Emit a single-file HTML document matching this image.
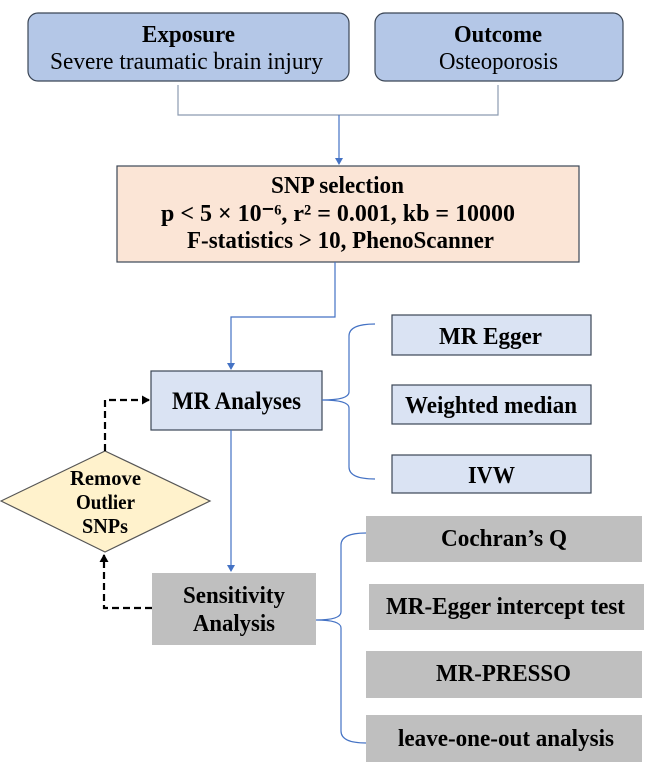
<!DOCTYPE html>
<html><head><meta charset="utf-8"><style>html,body{margin:0;padding:0;background:#fff}svg{display:block}</style></head>
<body>
<svg width="646" height="769" viewBox="0 0 646 769" xmlns="http://www.w3.org/2000/svg" font-family="'Liberation Serif', serif" font-weight="bold">
<defs>
<marker id="ab" markerWidth="8" markerHeight="8" refX="6" refY="4" orient="auto" markerUnits="userSpaceOnUse"><path d="M0,0 L7,4 L0,8 z" fill="#4472c4"/></marker>
<marker id="ak" markerWidth="9" markerHeight="9" refX="7" refY="4.5" orient="auto" markerUnits="userSpaceOnUse"><path d="M0,0 L8,4.5 L0,9 z" fill="#000"/></marker>
</defs>
<rect x="28" y="13" width="321" height="68" rx="10" fill="#b4c7e7" stroke="#3b4656" stroke-width="1.2"/>
<rect x="375" y="13" width="248" height="68" rx="10" fill="#b4c7e7" stroke="#3b4656" stroke-width="1.2"/>
<text x="142" y="42" font-size="24" textLength="93" lengthAdjust="spacingAndGlyphs">Exposure</text>
<text x="50" y="69" font-size="24" font-weight="normal" textLength="273" lengthAdjust="spacingAndGlyphs">Severe traumatic brain injury</text>
<text x="454" y="42" font-size="24" textLength="88" lengthAdjust="spacingAndGlyphs">Outcome</text>
<text x="439" y="69" font-size="24" font-weight="normal" textLength="119" lengthAdjust="spacingAndGlyphs">Osteoporosis</text>
<path d="M178,85 V115 H498 V85" fill="none" stroke="#8c9bb0" stroke-width="1.2"/>
<line x1="339" y1="115" x2="339" y2="164" stroke="#4472c4" stroke-width="1.2" marker-end="url(#ab)"/>
<rect x="117" y="166" width="462" height="96" fill="#fbe5d6" stroke="#3b4656" stroke-width="1.2"/>
<text x="271" y="193" font-size="24" textLength="133" lengthAdjust="spacingAndGlyphs">SNP selection</text>
<text x="161" y="221" font-size="24" textLength="354" lengthAdjust="spacingAndGlyphs">p &lt;  5 × 10⁻⁶,  r² = 0.001, kb = 10000</text>
<text x="187" y="248" font-size="24" textLength="307" lengthAdjust="spacingAndGlyphs">F-statistics &gt; 10, PhenoScanner</text>
<path d="M335,262 V317 H231 V369" fill="none" stroke="#4472c4" stroke-width="1.2" marker-end="url(#ab)"/>
<rect x="151" y="371" width="171" height="59" fill="#dae3f3" stroke="#3b4656" stroke-width="1.2"/>
<text x="172" y="409" font-size="25" textLength="129" lengthAdjust="spacingAndGlyphs">MR Analyses</text>
<path d="M375,324 Q349,324 349,336 V392 Q349,400 322,400 Q349,400 349,408 V467 Q349,479 375,479" fill="none" stroke="#4472c4" stroke-width="1.2"/>
<rect x="392" y="315" width="199" height="40" fill="#dae3f3" stroke="#3b4656" stroke-width="1.2"/>
<text x="439" y="344" font-size="24" textLength="103" lengthAdjust="spacingAndGlyphs">MR Egger</text>
<rect x="392" y="385" width="199" height="39" fill="#dae3f3" stroke="#3b4656" stroke-width="1.2"/>
<text x="405" y="413" font-size="24" textLength="172" lengthAdjust="spacingAndGlyphs">Weighted median</text>
<rect x="392" y="455" width="199" height="38" fill="#dae3f3" stroke="#3b4656" stroke-width="1.2"/>
<text x="468" y="483" font-size="24" textLength="47" lengthAdjust="spacingAndGlyphs">IVW</text>
<line x1="231" y1="430" x2="231" y2="571" stroke="#4472c4" stroke-width="1.2" marker-end="url(#ab)"/>
<polygon points="105,451 210,501 105,552 1,501" fill="#fff2cc" stroke="#555" stroke-width="1.2"/>
<text x="70" y="485" font-size="21" textLength="71" lengthAdjust="spacingAndGlyphs">Remove</text>
<text x="76" y="509" font-size="21" textLength="59" lengthAdjust="spacingAndGlyphs">Outlier</text>
<text x="82" y="533" font-size="21" textLength="46" lengthAdjust="spacingAndGlyphs">SNPs</text>
<path d="M105,451 V400 H149" fill="none" stroke="#000" stroke-width="2.2" stroke-dasharray="7,4" marker-end="url(#ak)"/>
<path d="M152,608 H104 V555" fill="none" stroke="#000" stroke-width="2.2" stroke-dasharray="7,4" marker-end="url(#ak)"/>
<rect x="152" y="573" width="164" height="72" fill="#bfbfbf"/>
<text x="183" y="603" font-size="24" textLength="102" lengthAdjust="spacingAndGlyphs">Sensitivity</text>
<text x="193" y="631" font-size="24" textLength="82" lengthAdjust="spacingAndGlyphs">Analysis</text>
<path d="M366,533 Q341,533 341,545 V612 Q341,620 316,620 Q341,620 341,628 V731 Q341,743 366,743" fill="none" stroke="#4472c4" stroke-width="1.2"/>
<rect x="366" y="516" width="276" height="46" fill="#bfbfbf"/>
<text x="441" y="546" font-size="24" textLength="126" lengthAdjust="spacingAndGlyphs">Cochran’s Q</text>
<rect x="369" y="584" width="275" height="46" fill="#bfbfbf"/>
<text x="386" y="614" font-size="24" textLength="239" lengthAdjust="spacingAndGlyphs">MR-Egger intercept test</text>
<rect x="366" y="651" width="276" height="47" fill="#bfbfbf"/>
<text x="436" y="681" font-size="24" textLength="135" lengthAdjust="spacingAndGlyphs">MR-PRESSO</text>
<rect x="366" y="715" width="276" height="47" fill="#bfbfbf"/>
<text x="398" y="746" font-size="24" textLength="216" lengthAdjust="spacingAndGlyphs">leave-one-out analysis</text>
</svg>
</body></html>
